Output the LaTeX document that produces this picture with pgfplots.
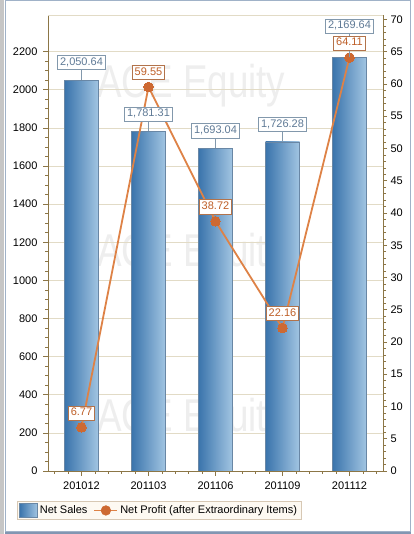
\documentclass[border=0pt]{standalone}
\usepackage{fontspec}
\setmainfont{Liberation Sans}
\usepackage{pgfplots}
\pgfplotsset{compat=1.18}
\definecolor{barL}{RGB}{58,116,172}
\definecolor{barR}{RGB}{162,197,226}
\definecolor{barB}{RGB}{105,135,165}
\definecolor{bbord}{RGB}{130,152,172}
\definecolor{btext}{RGB}{95,122,150}
\definecolor{lbord}{RGB}{178,115,75}
\definecolor{ltext}{RGB}{190,95,40}
\definecolor{lineC}{RGB}{222,130,70}
\definecolor{markC}{RGB}{205,105,50}
\definecolor{gridC}{RGB}{226,219,198}
\definecolor{axisC}{RGB}{140,118,70}
\definecolor{frameC}{RGB}{160,178,200}
\definecolor{frameD}{RGB}{130,150,178}
\definecolor{legF}{RGB}{253,249,242}
\definecolor{legB}{RGB}{215,200,180}
\definecolor{wm}{RGB}{238,238,238}
\newcommand{\lf}{\fontsize{11}{13}\selectfont}
\pgfplotsset{
  base/.style={scale only axis, width=335pt, height=456pt, at={(48pt,63pt)}, anchor=south west,
    xmin=-0.5, xmax=4.5, /pgf/number format/assume math mode=true},
  barsty/.style={ybar, bar width=34pt, bar shift=0pt, draw=barB, line width=0.5pt, left color=barL, right color=barR},
  blab/.style={draw=none, mark=none,
    nodes near coords={\pgfmathprintnumber[fixed,fixed zerofill,precision=2,1000 sep={,},assume math mode=true]{\pgfplotspointmeta}},
    every node near coord/.style={anchor=south, yshift=#1, draw=bbord, fill=white, text=btext, font=\lf,
      inner xsep=2.5pt, inner ysep=2pt, text height=8pt, text depth=2.2pt, line width=0.6pt}},
}
\begin{document}
\begin{tikzpicture}
\useasboundingbox (0pt,0pt) rectangle (413pt,534pt);
\fill[white] (0pt,0pt) rectangle (413pt,534pt);
\fill[gray!45] (0pt,0pt) rectangle (4pt,534pt);
\draw[frameC, line width=1pt] (5.5pt,2pt) rectangle (410.5pt,533.5pt);
\draw[frameD, line width=2pt] (5pt,1pt) -- (411pt,1pt);
% watermark
\node[anchor=base west, inner sep=0pt, text=wm, font=\fontsize{46}{46}\selectfont, xscale=0.8] at (97pt,436pt) {ACE Equity};
\node[anchor=base west, inner sep=0pt, text=wm, font=\fontsize{46}{46}\selectfont, xscale=0.8] at (97pt,267pt) {ACE Equity};
\node[anchor=base west, inner sep=0pt, text=wm, font=\fontsize{46}{46}\selectfont, xscale=0.8] at (97pt,102pt) {ACE Equity};

% Axis A: left scale, bars
\begin{axis}[base, ymin=0, ymax=2392,
  axis x line*=bottom, axis y line*=left,
  axis line style={axisC, line width=0.8pt},
  xtick={0,1,2,3,4}, xticklabels={201012,201103,201106,201109,201112},
  minor xtick={-0.4,-0.2,0.2,0.4,0.6,0.8,1.2,1.4,1.6,1.8,2.2,2.4,2.6,2.8,3.2,3.4,3.6,3.8,4.2,4.4},
  ytick={0,200,...,2200}, minor y tick num=3,
  tick align=outside, major tick length=5pt, minor tick length=3pt,
  every tick/.style={axisC, line width=0.6pt},
  ymajorgrids, major grid style={gridC, line width=0.6pt},
  yticklabel style={font=\lf, xshift=-2pt, /pgf/number format/1000 sep={}},
  xticklabel style={font=\lf, yshift=-2pt},
  legend style={at={(-0.0925,-0.1075)}, anchor=south west, draw=legB, fill=legF, font=\lf,
    inner xsep=2pt, inner ysep=2pt, line width=0.6pt,
    /tikz/every even column/.append style={column sep=4pt}},
  legend columns=-1, legend cell align=left,
]
\draw[gridC, line width=0.6pt] (rel axis cs:0,1) -- (rel axis cs:1,1);
\addplot[barsty,
  legend image code/.code={\shadedraw[left color=barL, right color=barR, draw=barB, line width=0.5pt] (0pt,-7pt) rectangle (18pt,7pt);}]
  coordinates {(0,2050.64)};
\addlegendentry{Net Sales}
\addplot[barsty, forget plot] coordinates {(1,1781.31)};
\addplot[barsty, forget plot] coordinates {(2,1693.04)};
\addplot[barsty, forget plot] coordinates {(3,1726.28)};
\addplot[barsty, forget plot] coordinates {(4,2169.64)};
\addlegendimage{legend image code/.code={\draw[lineC, line width=1.8pt] (0pt,0pt) -- (23pt,0pt); \fill[markC] (11.5pt,0pt) circle (4.8pt);}}
\addlegendentry{Net Profit (after Extraordinary Items)}
\end{axis}

% Axis B: right scale, line
\begin{axis}[base, ymin=0, ymax=70.7,
  axis y line*=right, axis x line=none,
  axis line style={axisC, line width=0.8pt},
  ytick={0,5,...,70}, minor y tick num=4,
  tick align=outside, major tick length=4pt, minor tick length=3pt,
  every tick/.style={axisC, line width=0.6pt},
  yticklabel style={font=\lf},
  clip=false,
]
\addplot[lineC, line width=1.8pt, mark=*, mark size=4.8pt, mark options={fill=markC, draw=markC, line width=0pt}]
  coordinates {(0,6.77) (1,59.55) (2,38.72) (3,22.16) (4,64.11)};
\end{axis}

% Axis C: bar labels
\begin{axis}[base, ymin=0, ymax=2392, hide axis, clip=false]
\addplot[blab=10pt,
  error bars/.cd, y dir=plus, y fixed=52.5, error mark=none, error bar style={draw=bbord, line width=0.6pt}]
  coordinates {(0,2050.64) (1,1781.31) (2,1693.04) (3,1726.28)};
\addplot[blab=24pt,
  error bars/.cd, y dir=plus, y fixed=126, error mark=none, error bar style={draw=bbord, line width=0.6pt}]
  coordinates {(4,2169.64)};
\end{axis}

% Axis D: line labels
\begin{axis}[base, ymin=0, ymax=70.7, hide axis, clip=false]
\addplot[draw=none, mark=none,
  nodes near coords={\pgfmathprintnumber[fixed,fixed zerofill,precision=2,assume math mode=true]{\pgfplotspointmeta}},
  every node near coord/.style={anchor=south, yshift=7pt, draw=lbord, fill=white, text=ltext, font=\lf,
    inner xsep=2.5pt, inner ysep=2pt, text height=8pt, text depth=2.2pt, line width=0.6pt}]
  coordinates {(0,6.77) (1,59.55) (2,38.72) (3,22.16) (4,64.11)};
\end{axis}
\end{tikzpicture}
\end{document}
